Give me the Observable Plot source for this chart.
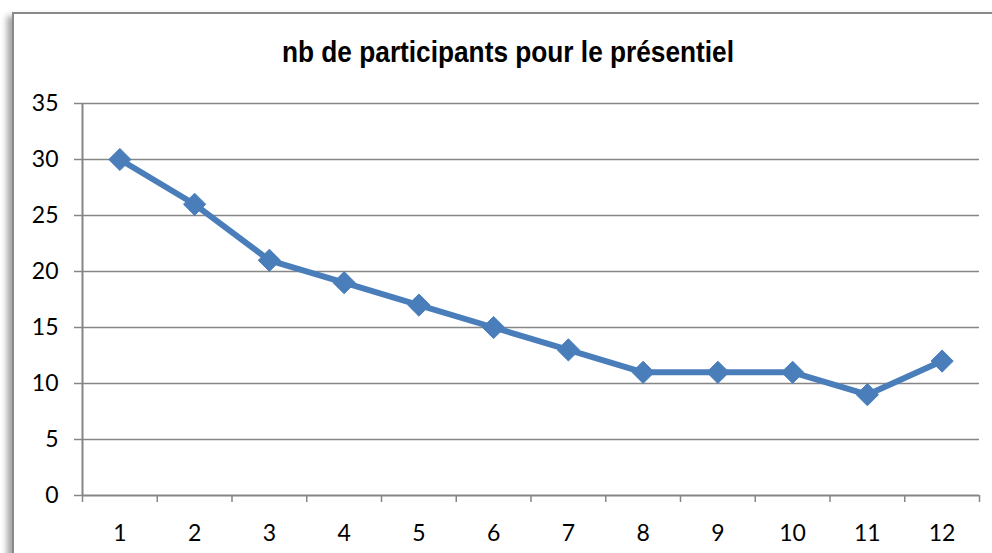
<!DOCTYPE html>
<html>
<head>
<meta charset="utf-8">
<script src="https://cdn.jsdelivr.net/npm/d3@7"></script>
<script src="https://cdn.jsdelivr.net/npm/@observablehq/plot@0.6"></script>
<style>
  html, body { margin: 0; padding: 0; background: #fff; overflow: hidden; width: 992px; height: 553px; }
  #frame {
    position: absolute; left: 12px; top: 12px; width: 1100px; height: 700px;
    border: 2px solid #8a8a8a; box-shadow: -5px 4px 6px rgba(0,0,0,0.35); background: #fff;
  }
  #wrap { position: absolute; left: 0; top: 0; width: 992px; height: 553px; }
  #title { position: relative; height: 90px; }
  #title span {
    position: absolute; left: 508px; top: 35px; white-space: nowrap;
    font-family: "Liberation Sans", Arial, sans-serif;
    font-weight: bold; font-size: 30px; line-height: 34px; color: #000;
    transform-origin: center center;
  }
</style>
</head>
<body>
<div id="frame"></div>
<div id="wrap">
  <div id="title"><span id="tt">nb de participants pour le présentiel</span></div>
  <div id="chart"></div>
</div>
<script>
const categories = [1, 2, 3, 4, 5, 6, 7, 8, 9, 10, 11, 12];
const participants = [30, 26, 21, 19, 17, 15, 13, 11, 11, 11, 9, 12];
const yTicks = [0, 5, 10, 15, 20, 25, 30, 35];

const tt = document.getElementById("tt");
const w = tt.getBoundingClientRect().width;
const s = 452 / w;
tt.style.transform = `translateX(-50%) scaleX(${s})`;

const data = categories.map((c, i) => ({x: c, y: participants[i]}));
const boundaries = [categories[0] - 0.5, ...categories.map(c => c + 0.5)];

const chart = Plot.plot({
  width: 992,
  height: 463,
  marginTop: 13,
  marginBottom: 58,
  marginLeft: 82,
  marginRight: 13,
  style: {fontFamily: "Lato, 'Open Sans', sans-serif", fontSize: "23px", color: "#000", background: "transparent", overflow: "visible"},
  x: {domain: [boundaries[0], boundaries[boundaries.length - 1]]},
  y: {domain: [0, 35]},
  marks: [
    Plot.gridY(yTicks.slice(1), {stroke: "#868686", strokeOpacity: 1, strokeWidth: 1.5}),
    Plot.axisY(yTicks, {tickSize: 8, tickPadding: 16, stroke: "#868686", strokeWidth: 1.5, label: null, fill: "#000"}),
    Plot.axisX(boundaries, {tickSize: 7, tickFormat: () => "", stroke: "#868686", strokeWidth: 1.5, label: null}),
    Plot.axisX(categories, {tickSize: 0, tickPadding: 29, label: null, fill: "#000"}),
    Plot.ruleX([boundaries[0]], {stroke: "#868686", strokeWidth: 2}),
    Plot.ruleY([0], {stroke: "#868686", strokeWidth: 2}),
    Plot.line(data, {x: "x", y: "y", stroke: "#4a7ebb", strokeWidth: 6, strokeLinejoin: "round"}),
    Plot.dot(data, {x: "x", y: "y", symbol: "diamond2", r: 10, fill: "#4a7ebb", stroke: "#4a7ebb", strokeWidth: 1})
  ]
});
document.getElementById("chart").appendChild(chart);
</script>
</body>
</html>
